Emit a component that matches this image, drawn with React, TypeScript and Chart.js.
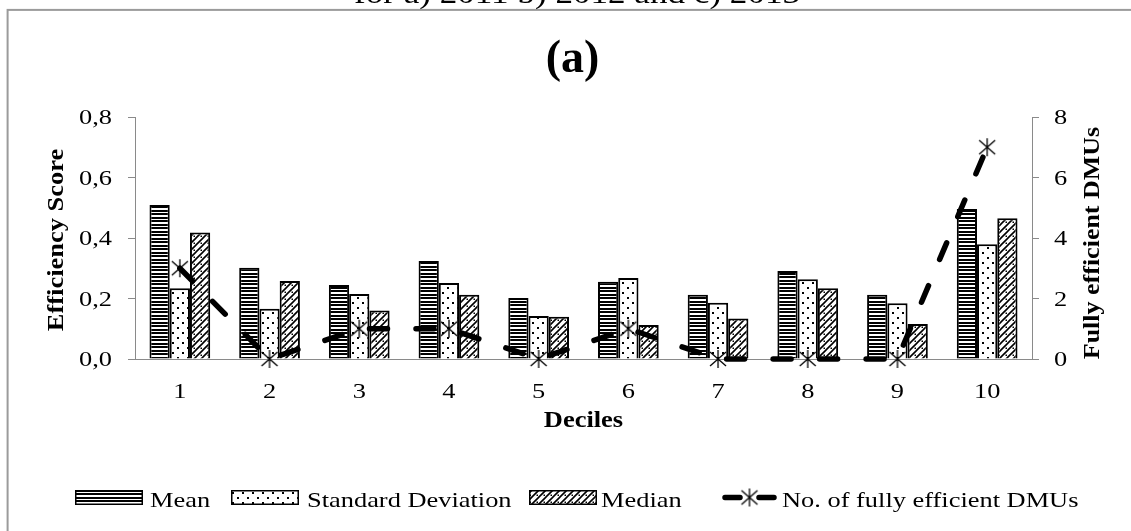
import React, { useEffect, useRef } from "react";
import { Chart, registerables } from "chart.js";

Chart.register(...registerables);

const deciles = ["1", "2", "3", "4", "5", "6", "7", "8", "9", "10"];
const meanValues = [0.509, 0.302, 0.245, 0.324, 0.202, 0.255, 0.212, 0.291, 0.212, 0.496];
const sdValues = [0.234, 0.166, 0.215, 0.251, 0.142, 0.268, 0.186, 0.264, 0.184, 0.379];
const medianValues = [0.418, 0.258, 0.16, 0.212, 0.14, 0.112, 0.134, 0.234, 0.116, 0.465];
const efficientDMUs = [3, 0, 1, 1, 0, 1, 0, 0, 0, 7];
const leftTicks = [0, 0.2, 0.4, 0.6, 0.8];
const leftTickLabels = ["0,0", "0,2", "0,4", "0,6", "0,8"];
const rightTicks = [0, 2, 4, 6, 8];
const rightTickLabels = ["0", "2", "4", "6", "8"];
const legendLabels = ["Mean", "Standard Deviation", "Median", "No. of fully efficient DMUs"];
const chartTitle = "(a)";
const captionText = "for a) 2011 b) 2012 and c) 2013";
const xTitle = "Deciles";
const yTitle = "Efficiency Score";
const y2Title = "Fully efficient DMUs";

const FONT = '"Liberation Serif", "Times New Roman", serif';

function makeCanvas(w: number, h: number, draw: (g: CanvasRenderingContext2D) => void) {
  const c = document.createElement("canvas");
  c.width = w;
  c.height = h;
  const g = c.getContext("2d")!;
  draw(g);
  return c;
}

function txt(
  ctx: CanvasRenderingContext2D,
  s: string,
  x: number,
  y: number,
  size: number,
  bold: boolean,
  sx: number,
  align: CanvasTextAlign,
  rot = 0
) {
  ctx.save();
  ctx.translate(x, y);
  if (rot) ctx.rotate(rot);
  ctx.scale(sx, 1);
  ctx.font = `${bold ? "bold " : ""}${size}px ${FONT}`;
  ctx.textAlign = align;
  ctx.textBaseline = "alphabetic";
  ctx.fillStyle = "#000";
  ctx.fillText(s, 0, 0);
  ctx.restore();
}

export default function App() {
  const ref = useRef<HTMLCanvasElement>(null);

  useEffect(() => {
    const canvas = ref.current!;
    const ctx = canvas.getContext("2d")!;

    const stripeTile = makeCanvas(4, 7, (g) => {
      g.fillStyle = "#fff";
      g.fillRect(0, 0, 4, 7);
      g.fillStyle = "#000";
      g.fillRect(0, 0, 4, 2);
      g.fillRect(0, 3, 4, 2);
    });
    const dotTile = makeCanvas(10, 10, (g) => {
      g.fillStyle = "#fff";
      g.fillRect(0, 0, 10, 10);
      g.fillStyle = "#000";
      g.fillRect(2, 2, 2, 2);
      g.fillRect(7, 7, 2, 2);
    });
    const hatchTile = makeCanvas(7, 7, (g) => {
      g.fillStyle = "#fff";
      g.fillRect(0, 0, 7, 7);
      g.strokeStyle = "#000";
      g.lineWidth = 1.6;
      g.beginPath();
      g.moveTo(0, 7);
      g.lineTo(7, 0);
      g.moveTo(-2, 2);
      g.lineTo(2, -2);
      g.moveTo(5, 9);
      g.lineTo(9, 5);
      g.stroke();
      g.fillStyle = "#000";
      g.fillRect(4.5, 4.5, 1.5, 1.5);
    });
    const markerCanvas = makeCanvas(20, 20, (g) => {
      g.strokeStyle = "#000";
      g.lineWidth = 1.3;
      g.beginPath();
      g.moveTo(10, 1);
      g.lineTo(10, 19);
      g.moveTo(2, 3);
      g.lineTo(18, 17);
      g.moveTo(18, 3);
      g.lineTo(2, 17);
      g.stroke();
    });

    const stripes = ctx.createPattern(stripeTile, "repeat")!;
    const dots = ctx.createPattern(dotTile, "repeat")!;
    const hatch = ctx.createPattern(hatchTile, "repeat")!;
    const fills = [stripes, dots, hatch];

    const TS = 22; // tick font size
    const TSX = 1.2;

    const decor = {
      id: "decor",
      beforeDraw(chart: any) {
        const c = chart.ctx as CanvasRenderingContext2D;
        c.save();
        c.fillStyle = "#fff";
        c.fillRect(0, 0, chart.width, chart.height);
        c.strokeStyle = "#9b9b9b";
        c.lineWidth = 2;
        c.strokeRect(7.6, 9.9, 1130, 540);
        c.restore();
        txt(c, captionText, 577, 3.3, 30, false, 1.17, "center");
      },
      afterDraw(chart: any) {
        const c = chart.ctx as CanvasRenderingContext2D;
        const ys = chart.scales.y;
        const y1 = chart.scales.y1;
        const xs = chart.scales.x;
        // title
        txt(c, chartTitle, 572.6, 72, 46, true, 1.0, "center");
        // tick labels
        leftTicks.forEach((v, i) => {
          txt(c, leftTickLabels[i], 112, ys.getPixelForValue(v) + 0.338 * TS, TS, false, TSX, "right");
        });
        rightTicks.forEach((v, i) => {
          txt(c, rightTickLabels[i], 1054, y1.getPixelForValue(v) + 0.338 * TS, TS, false, TSX, "left");
        });
        deciles.forEach((d, i) => {
          txt(c, d, xs.getPixelForValue(i), 398, TS, false, TSX, "center");
        });
        // axis titles
        txt(c, xTitle, (chart.chartArea.left + chart.chartArea.right) / 2, 427, 23, true, 1.15, "center");
        txt(c, yTitle, 63, 240, 23, true, 1.15, "center", -Math.PI / 2);
        txt(c, y2Title, 1099, 243, 23, true, 1.13, "center", -Math.PI / 2);
        // legend
        const boxTop = 490;
        const boxH = 15;
        const base = 506.5;
        const boxes = [75, 231, 529];
        const textX = [150, 307, 601];
        boxes.forEach((bx, i) => {
          c.save();
          c.fillStyle = fills[i];
          c.fillRect(bx, boxTop, 68, boxH);
          c.strokeStyle = "#000";
          c.lineWidth = 1.5;
          c.strokeRect(bx + 0.75, boxTop + 0.75, 66.5, boxH - 1.5);
          c.restore();
          txt(c, legendLabels[i], textX[i], base, TS, false, TSX, "left");
        });
        // line legend item
        c.save();
        c.strokeStyle = "#000";
        c.lineWidth = 5.5;
        c.lineCap = "round";
        c.beginPath();
        c.moveTo(725, 497.5);
        c.lineTo(740, 497.5);
        c.moveTo(759, 497.5);
        c.lineTo(774, 497.5);
        c.stroke();
        c.drawImage(markerCanvas, 749.5 - 10, 497.5 - 10);
        c.restore();
        txt(c, legendLabels[3], 782, base, TS, false, TSX, "left");
      },
    };

    const gridCol = "#8a8a8a";

    const chart = new Chart(ctx, {
      type: "bar",
      data: {
        labels: deciles,
        datasets: [
          {
            type: "line",
            label: legendLabels[3],
            data: efficientDMUs,
            yAxisID: "y1",
            borderColor: "#000",
            backgroundColor: "#000",
            borderWidth: 5.5,
            borderDash: [18, 28.5],
            borderCapStyle: "round",
            tension: 0,
            fill: false,
            pointStyle: markerCanvas as any,
            pointRadius: 9,
            clip: false as any,
            order: 0,
          } as any,
          {
            type: "bar",
            label: legendLabels[0],
            data: meanValues,
            backgroundColor: stripes as any,
            borderColor: "#000",
            borderWidth: 2,
            yAxisID: "y",
            categoryPercentage: 0.677,
            barPercentage: 1,
            order: 1,
          },
          {
            type: "bar",
            label: legendLabels[1],
            data: sdValues,
            backgroundColor: dots as any,
            borderColor: "#000",
            borderWidth: 2,
            yAxisID: "y",
            categoryPercentage: 0.677,
            barPercentage: 1,
            order: 1,
          },
          {
            type: "bar",
            label: legendLabels[2],
            data: medianValues,
            backgroundColor: hatch as any,
            borderColor: "#000",
            borderWidth: 2,
            yAxisID: "y",
            categoryPercentage: 0.677,
            barPercentage: 1,
            order: 1,
          },
        ],
      },
      options: {
        responsive: false,
        devicePixelRatio: 1,
        animation: false,
        layout: { padding: { top: 117, left: 0, right: 0, bottom: 0 } },
        plugins: {
          legend: { display: false },
          tooltip: { enabled: false },
          title: { display: false },
        },
        scales: {
          x: {
            type: "category",
            offset: true,
            grid: { display: false },
            border: { display: true, color: gridCol, width: 1 },
            ticks: { display: false },
            afterFit: (s: any) => {
              s.height = 172;
            },
          },
          y: {
            position: "left",
            min: 0,
            max: 0.8,
            ticks: { display: false, stepSize: 0.2 },
            grid: { drawOnChartArea: false, drawTicks: true, tickLength: 7, color: gridCol, lineWidth: 1 },
            border: { display: true, color: gridCol, width: 1 },
            afterFit: (s: any) => {
              s.width = 135;
            },
          },
          y1: {
            position: "right",
            min: 0,
            max: 8,
            ticks: { display: false, stepSize: 2 },
            grid: { drawOnChartArea: false, drawTicks: true, tickLength: 7, color: gridCol, lineWidth: 1 },
            border: { display: true, color: gridCol, width: 1 },
            afterFit: (s: any) => {
              s.width = 99;
            },
          },
        },
      } as any,
      plugins: [decor],
    });

    return () => chart.destroy();
  }, []);

  return (
    <div
      style={{
        position: "fixed",
        left: 0,
        top: 0,
        width: 1131,
        height: 531,
        overflow: "hidden",
        background: "#fff",
      }}
    >
      <canvas ref={ref} width={1131} height={531} style={{ display: "block", width: 1131, height: 531 }} />
    </div>
  );
}
